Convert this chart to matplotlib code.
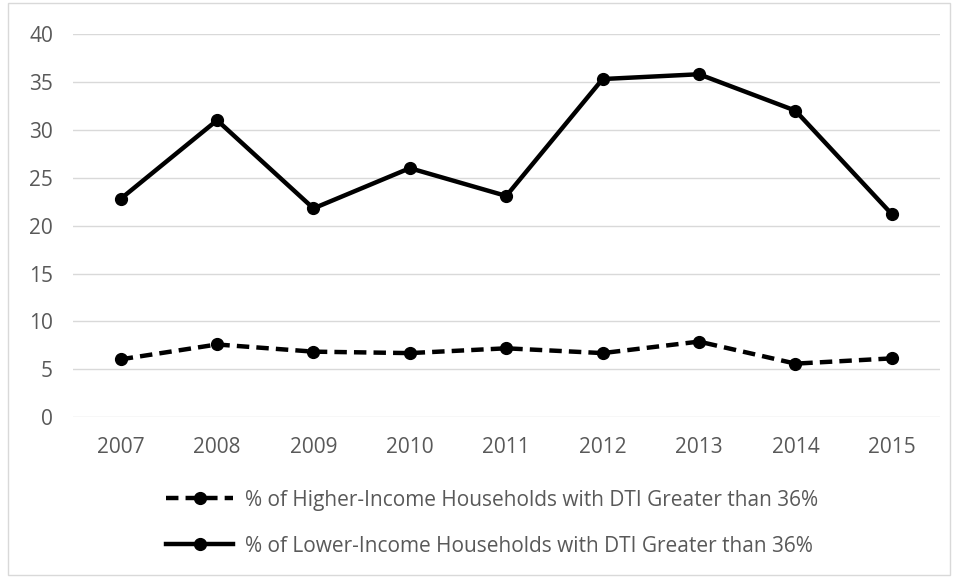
import matplotlib
matplotlib.use("Agg")
import matplotlib.pyplot as plt
from matplotlib.patches import Rectangle

# data
years = ['2007', '2008', '2009', '2010', '2011', '2012', '2013', '2014', '2015']
higher_income = [6.05, 7.6, 6.85, 6.7, 7.2, 6.7, 7.9, 5.6, 6.15]
lower_income = [22.8, 31.0, 21.8, 26.0, 23.1, 35.3, 35.8, 32.0, 21.2]
label_higher = '% of Higher-Income Households with DTI Greater than 36%'
label_lower = '% of Lower-Income Households with DTI Greater than 36%'
y_ticks = [0, 5, 10, 15, 20, 25, 30, 35, 40]

plt.rcParams['font.family'] = ['Open Sans', 'DejaVu Sans']
grey = '#595959'

fig = plt.figure(figsize=(9.56, 5.78), dpi=100)
ax = fig.add_axes([72.5 / 956, 1 - 417.3 / 578, 867.5 / 956, (417.3 - 34) / 578])

x = list(range(len(years)))
ax.plot(x, higher_income, color='black', lw=3.2, dashes=(2.8, 1.6),
        marker='o', markersize=8.5, label=label_higher)
ax.plot(x, lower_income, color='black', lw=3.2,
        marker='o', markersize=8.5, label=label_lower)

ax.set_xlim(-0.5, len(years) - 0.5)
ax.set_ylim(0, 40)
ax.set_yticks(y_ticks)
ax.set_xticks(x)
ax.set_xticklabels(years)
ax.yaxis.grid(True, color='#d9d9d9', lw=1)
ax.set_axisbelow(True)
for s in ax.spines.values():
    s.set_visible(False)
ax.tick_params(length=0, labelsize=15, labelcolor=grey)
ax.tick_params(axis='y', pad=14)
ax.tick_params(axis='x', pad=14)

fig.legend(loc='upper center', bbox_to_anchor=(0.515, 1 - 471 / 578), ncol=1,
           frameon=False, fontsize=15, labelcolor=grey, labelspacing=1.2,
           handlelength=3.2, handletextpad=0.6, markerscale=1.0)

# light chart border
fig.patches.append(Rectangle((8 / 956, 3 / 578), 942 / 956, 572 / 578,
                             transform=fig.transFigure, fill=False,
                             edgecolor='#d9d9d9', lw=1))

fig.savefig('out.png', dpi=100)
